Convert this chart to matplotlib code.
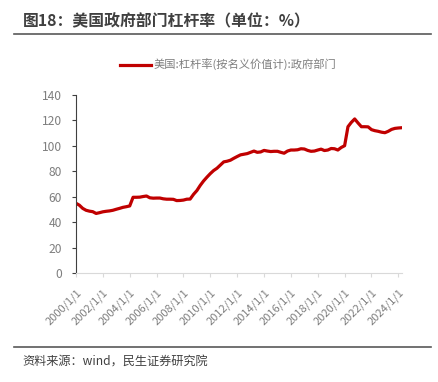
import matplotlib
matplotlib.use("Agg")
import matplotlib.pyplot as plt
from matplotlib.lines import Line2D
import pandas as pd

plt.rcParams["font.family"] = ["Noto Sans CJK SC", "DejaVu Sans"]

# quarterly, 2000Q1 .. 2024Q2
start_date = "2000-01-01"
end_date = "2024-04-01"
gov_leverage = [
    55.0, 53.5, 51.0, 49.5, 48.8, 48.4, 47.0, 47.6,   # 2000-2001
    48.3, 48.7, 49.0, 49.5, 50.3, 51.0, 51.8, 52.3,   # 2002-2003
    52.9, 59.7, 59.7, 59.8, 60.3, 60.7, 59.3, 59.0,   # 2004-2005
    59.1, 59.1, 58.5, 58.2, 58.2, 58.1, 57.1, 57.2,   # 2006-2007
    57.5, 58.2, 58.3, 62.0, 65.0, 69.0, 72.5, 75.5,   # 2008-2009
    78.3, 80.7, 82.5, 85.0, 87.5, 88.0, 88.8, 90.3,   # 2010-2011
    91.7, 93.0, 93.5, 94.0, 95.0, 96.0, 95.0, 95.3,   # 2012-2013
    96.5, 96.0, 95.6, 95.8, 95.8, 95.0, 94.3, 96.0,   # 2014-2015
    96.8, 96.8, 97.0, 97.8, 97.6, 96.5, 95.8, 96.0,   # 2016-2017
    96.8, 97.5, 96.4, 96.8, 98.0, 97.8, 96.8, 98.8,   # 2018-2019
    100.2, 115.1, 118.5, 121.2, 118.0, 115.1, 115.1, 115.0,  # 2020-2021
    112.8, 112.0, 111.5, 110.8, 110.4, 111.5, 113.0, 113.8,  # 2022-2023
    114.1, 114.3,                                      # 2024
]
dates = pd.date_range(start_date, end_date, freq="QS")
series_label = "美国:杠杆率(按名义价值计):政府部门"
title_text = "图18：美国政府部门杠杆率（单位：%）"
source_text = "资料来源：wind，民生证券研究院"
xtick_years = list(range(2000, 2025, 2))
yticks = [0, 20, 40, 60, 80, 100, 120, 140]

RED = "#C00000"
GREY = "#7f7f7f"

fig = plt.figure(figsize=(4.38, 3.82), dpi=100)
ax = fig.add_axes([0.1735, 0.2845, 0.7436, 0.4668])

ax.plot(dates, gov_leverage, color=RED, lw=2.3, solid_joinstyle="round")

ax.set_xlim(dates[0], dates[-1])
ax.set_ylim(0, 140)
ax.set_yticks(yticks)
ax.set_xticks([pd.Timestamp(f"{y}-01-01") for y in xtick_years])
ax.set_xticklabels([f"{y}/1/1" for y in xtick_years], rotation=45,
                   ha="right", rotation_mode="anchor")

for s in ["top", "right"]:
    ax.spines[s].set_visible(False)
ax.spines["left"].set_color("#404040")
ax.spines["left"].set_linewidth(0.8)
ax.spines["bottom"].set_color("#d9d9d9")
ax.spines["bottom"].set_linewidth(0.8)
ax.tick_params(axis="y", colors="#404040", labelcolor=GREY, labelsize=8.7,
               length=3, width=0.8, pad=7)
ax.tick_params(axis="x", colors="#d9d9d9", labelcolor=GREY, labelsize=8,
               length=3, width=0.8, pad=7)

# legend
handle = Line2D([], [], color=RED, lw=2.3)
fig.legend([handle], [series_label], loc="center", bbox_to_anchor=(0.52, 0.83),
           frameon=False, fontsize=8.1, labelcolor=GREY, handlelength=2.8,
           handletextpad=0.2)

# title and separators
fig.text(0.052, 0.943, title_text, fontsize=11.4, fontweight="bold",
         color="#404040", va="center", ha="left")
fig.add_artist(Line2D([0.032, 0.985], [0.912, 0.912], color="#595959", lw=1.2))
fig.add_artist(Line2D([0.032, 0.985], [0.091, 0.091], color="#595959", lw=1.2))
fig.text(0.052, 0.053, source_text, fontsize=8.75, color="#404040",
         va="center", ha="left")

fig.savefig("out.png", dpi=100)
plt.close(fig)
